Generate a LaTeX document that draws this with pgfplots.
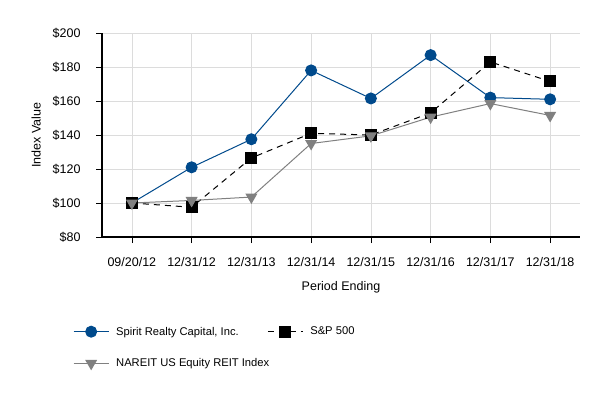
\documentclass[border=0pt]{standalone}
\usepackage{pgfplots}
\pgfplotsset{compat=1.18}
\usepackage{fontspec}
\setmainfont{Liberation Sans}
\definecolor{spiritblue}{HTML}{004A8C}
\definecolor{reitgrey}{HTML}{808080}
\definecolor{gridgrey}{HTML}{DCDCDC}
\begin{document}
\begin{tikzpicture}
\path[use as bounding box] (0,0) rectangle (613pt,400pt);
\begin{axis}[
    at={(102pt,163pt)}, anchor=south west,
    scale only axis, width=478pt, height=204pt,
    font=\fontsize{12.5}{14}\selectfont,
    xmin=-0.5, xmax=7.5, ymin=80, ymax=200,
    xtick={0,...,7},
    xticklabels={09/20/12,12/31/12,12/31/13,12/31/14,12/31/15,12/31/16,12/31/17,12/31/18},
    ytick={80,100,...,200},
    yticklabel={\$\pgfmathprintnumber{\tick}},
    /pgf/number format/assume math mode=true,
    axis lines*=left,
    axis line style={black, line width=1.2pt},
    tick style={black, line width=0.6pt},
    tick align=outside, major tick length=6pt,
    grid=major, grid style={gridgrey, line width=0.6pt},
    xticklabel style={yshift=-11pt},
    yticklabel style={xshift=-12pt},
    xlabel={Period Ending}, ylabel={Index Value},
    xlabel style={yshift=-8pt},
    ylabel style={yshift=5pt},
    legend style={at={(-0.067,-0.42)}, anchor=north west, draw=none,
        font=\fontsize{11.2}{13}\selectfont,
        /tikz/every even column/.append style={column sep=-4pt},
        row sep=18pt},
    legend cell align=left, legend columns=2,
    legend image code/.code={\draw[mark repeat=2,mark phase=2] plot coordinates {(0pt,0pt) (17.5pt,0pt) (35pt,0pt)}; \path (40pt,0pt);},
]
\addplot[spiritblue, line width=1pt, mark=*, mark size=5.5pt, mark options={solid, fill=spiritblue, draw=spiritblue}] coordinates {
    (0,100) (1,121) (2,137.5) (3,178) (4,161.5) (5,187) (6,162) (7,161)
};
\addlegendentry{Spirit Realty Capital, Inc.}
\addplot[black, line width=1pt, dashed, dash pattern=on 6pt off 5pt, mark=square*, mark size=5.5pt, mark options={solid, fill=black}] coordinates {
    (0,100) (1,97.5) (2,126.5) (3,141) (4,140) (5,153) (6,183) (7,171.5)
};
\addlegendentry{S\&P 500}
\addplot[reitgrey, line width=1pt, mark=triangle*, mark size=6pt, mark options={solid, fill=reitgrey, rotate=180}] coordinates {
    (0,100) (1,101.5) (2,103.5) (3,135) (4,139.5) (5,150.5) (6,158.5) (7,151.5)
};
\addlegendentry{NAREIT US Equity REIT Index}
\end{axis}
\end{tikzpicture}
\end{document}
